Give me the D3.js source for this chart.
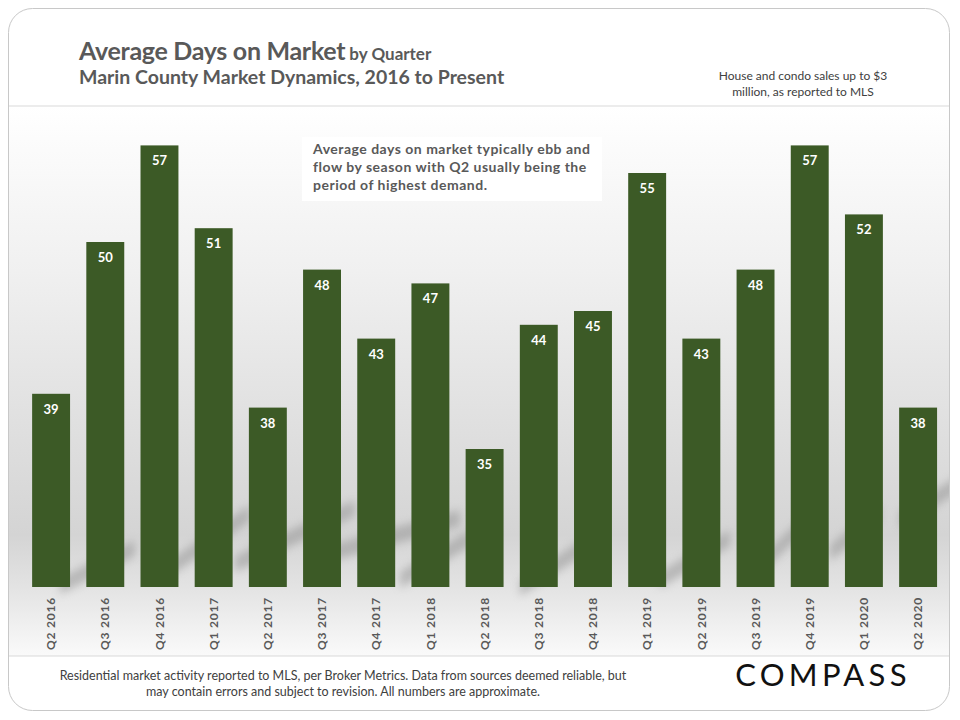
<!DOCTYPE html>
<meta charset="utf-8">
<style>
body { margin: 0; background: #fff; }
text { font-family: Lato, "Open Sans", sans-serif; }
</style>
<body>
<script src="https://cdn.jsdelivr.net/npm/d3@7"></script>
<script>

var quarters = ["Q2 2016", "Q3 2016", "Q4 2016", "Q1 2017", "Q2 2017", "Q3 2017",
  "Q4 2017", "Q1 2018", "Q2 2018", "Q3 2018", "Q4 2018", "Q1 2019", "Q2 2019",
  "Q3 2019", "Q4 2019", "Q1 2020", "Q2 2020"];
var days = [39, 50, 57, 51, 38, 48, 43, 47, 35, 44, 45, 55, 43, 48, 57, 52, 38];
var yDomain = [25, 60];

var width = 960,
    height = 720;

var svg = d3.select("body").append("svg")
    .attr("width", width)
    .attr("height", height);

var defs = svg.append("defs");

var card = defs.append("clipPath").attr("id", "card");
card.append("rect")
    .attr("x", 8.5).attr("y", 8.5)
    .attr("width", 941).attr("height", 702)
    .attr("rx", 24);

// plot background: white fading to grey, lighter again under the bars
var grad = defs.append("linearGradient")
    .attr("id", "bg")
    .attr("x1", 0).attr("y1", 0).attr("x2", 0).attr("y2", 1);
grad.append("stop").attr("offset", "0%").attr("stop-color", "#ffffff");
grad.append("stop").attr("offset", "30%").attr("stop-color", "#f0f0f0");
grad.append("stop").attr("offset", "78%").attr("stop-color", "#d4d4d4");
grad.append("stop").attr("offset", "88%").attr("stop-color", "#e4e4e4");
grad.append("stop").attr("offset", "100%").attr("stop-color", "#fafafa");

defs.append("filter").attr("id", "blur")
    .attr("x", "-50%").attr("y", "-50%").attr("width", "200%").attr("height", "200%")
  .append("feGaussianBlur").attr("stdDeviation", 4);

var page = svg.append("g").attr("clip-path", "url(#card)");

page.append("rect")
    .attr("x", 0).attr("y", 106)
    .attr("width", width).attr("height", 550)
    .attr("fill", "url(#bg)");

// soft diagonal reflections behind the bars
var streaks = [[60, 578, 135, 540], [170, 560, 250, 505], [235, 556, 355, 500],
  [320, 548, 460, 510], [400, 572, 470, 530], [520, 580, 600, 528],
  [660, 572, 730, 530], [760, 558, 800, 520], [830, 545, 880, 505], [900, 512, 960, 475]];
page.selectAll(".streak")
    .data(streaks)
  .enter().append("path")
    .attr("class", "streak")
    .attr("d", function(d) {
      return "M" + d[0] + "," + d[1] + "L" + d[2] + "," + d[3] +
        "L" + d[2] + "," + (d[3] + 16) + "L" + d[0] + "," + (d[1] + 16) + "Z";
    })
    .attr("fill", "#8f8f8f")
    .attr("opacity", 0.5)
    .attr("filter", "url(#blur)");

page.append("line")
    .attr("x1", 0).attr("x2", width).attr("y1", 106).attr("y2", 106)
    .attr("stroke", "#d9d9d9");
page.append("line")
    .attr("x1", 0).attr("x2", width).attr("y1", 656).attr("y2", 656)
    .attr("stroke", "#d9d9d9");

svg.append("rect")
    .attr("x", 8.5).attr("y", 8.5)
    .attr("width", 941).attr("height", 702)
    .attr("rx", 24)
    .attr("fill", "none")
    .attr("stroke", "#c8c8c8");

var x = d3.scaleBand()
    .domain(quarters)
    .range([24, 945.2])
    .paddingInner(0.3)
    .paddingOuter(0.15);

var y = d3.scaleLinear()
    .domain(yDomain)
    .range([587, 104]);

var bars = svg.append("g");

bars.selectAll("rect")
    .data(days)
  .enter().append("rect")
    .attr("x", function(d, i) { return x(quarters[i]); })
    .attr("width", x.bandwidth())
    .attr("y", function(d) { return y(d); })
    .attr("height", function(d) { return y(yDomain[0]) - y(d); })
    .attr("fill", "#3c5a26");

bars.selectAll("text")
    .data(days)
  .enter().append("text")
    .attr("x", function(d, i) { return x(quarters[i]) + x.bandwidth() / 2; })
    .attr("y", function(d) { return y(d) + 20; })
    .attr("text-anchor", "middle")
    .style("font-size", "13px")
    .style("font-weight", "bold")
    .style("fill", "#fff")
    .text(function(d) { return d; });

var xAxis = svg.append("g")
    .attr("transform", "translate(0,597)")
    .call(d3.axisBottom(x).tickSize(0).tickPadding(0));
xAxis.select(".domain").remove();
xAxis.selectAll("text")
    .attr("transform", "rotate(-90)")
    .attr("x", 0).attr("y", 0).attr("dy", "0.35em")
    .attr("text-anchor", "end")
    .style("font-family", "Lato, sans-serif")
    .style("font-size", "12px")
    .style("font-weight", "bold")
    .style("letter-spacing", "0.8px")
    .style("fill", "#595959");

// header
var title = svg.append("text")
    .attr("x", 79).attr("y", 60)
    .style("fill", "#595959");
title.append("tspan")
    .style("font-size", "25px")
    .style("font-weight", "bold")
    .style("letter-spacing", "-0.3px")
    .text("Average Days on Market");
title.append("tspan")
    .style("font-size", "17px")
    .style("font-weight", "bold")
    .text(" by Quarter");

svg.append("text")
    .attr("x", 79).attr("y", 84)
    .style("font-size", "19.5px")
    .style("font-weight", "bold")
    .style("fill", "#595959")
    .text("Marin County Market Dynamics, 2016 to Present");

var note = ["House and condo sales up to $3", "million, as reported to MLS"];
svg.selectAll(".note")
    .data(note)
  .enter().append("text")
    .attr("class", "note")
    .attr("x", 803)
    .attr("y", function(d, i) { return 80 + i * 16; })
    .attr("text-anchor", "middle")
    .style("font-size", "12px")
    .style("fill", "#404040")
    .text(function(d) { return d; });

// annotation box
svg.append("rect")
    .attr("x", 302).attr("y", 137)
    .attr("width", 300).attr("height", 64)
    .attr("fill", "#fff");

var callout = ["Average days on market typically ebb and",
  "flow by season with Q2 usually being the",
  "period of highest demand."];
svg.selectAll(".callout")
    .data(callout)
  .enter().append("text")
    .attr("class", "callout")
    .attr("x", 313)
    .attr("y", function(d, i) { return 154 + i * 18; })
    .style("font-size", "14px")
    .style("font-weight", "bold")
    .style("letter-spacing", "0.5px")
    .style("fill", "#595959")
    .text(function(d) { return d; });

// footer
var footer = ["Residential market activity reported to MLS, per Broker Metrics. Data from sources deemed reliable, but",
  "may contain errors and subject to revision. All numbers are approximate."];
svg.selectAll(".footer")
    .data(footer)
  .enter().append("text")
    .attr("class", "footer")
    .attr("x", 343)
    .attr("y", function(d, i) { return 680 + i * 16; })
    .attr("text-anchor", "middle")
    .style("font-size", "12.5px")
    .style("fill", "#404040")
    .text(function(d) { return d; });

svg.append("text")
    .attr("x", 823).attr("y", 686)
    .attr("text-anchor", "middle")
    .style("font-family", "Lato, sans-serif")
    .style("font-size", "31px")
    .style("letter-spacing", "4.3px")
    .style("fill", "#111")
    .text("COMPASS");

</script>
